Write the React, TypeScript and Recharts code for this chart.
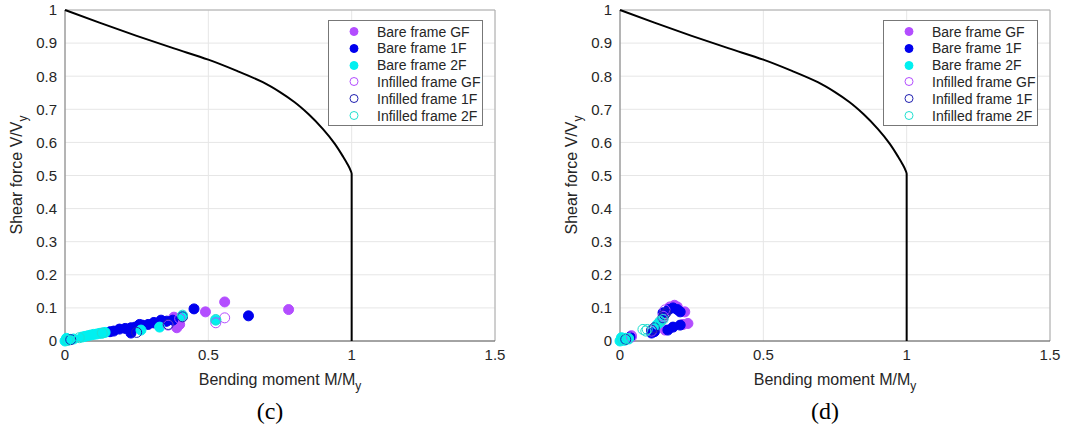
import React from "react";
import { ScatterChart, Scatter, XAxis, YAxis, CartesianGrid, ReferenceLine, Label } from "recharts";

type Pt = [number, number];

const X_TICKS = [0, 0.5, 1, 1.5];
const Y_TICKS = [0, 0.1, 0.2, 0.3, 0.4, 0.5, 0.6, 0.7, 0.8, 0.9, 1];

// M-V interaction boundary (M/My, V/Vy), ending in a vertical branch at M/My = 1
const BOUNDARY: Pt[] = [
  [0, 1], [0.12, 0.962], [0.25, 0.922], [0.38, 0.884], [0.5, 0.85], [0.6, 0.816],
  [0.69, 0.782], [0.75, 0.752], [0.8, 0.722], [0.85, 0.685], [0.9, 0.64],
  [0.94, 0.597], [0.97, 0.557], [0.985, 0.535], [0.995, 0.518], [1, 0.505], [1, 0],
];

// panel (c)
const C_BARE_GF: Pt[] = [
  [0.78, 0.095], [0.557, 0.118], [0.49, 0.088], [0.39, 0.04], [0.38, 0.072],
  [0.31, 0.054], [0.4, 0.05], [0.35, 0.058], [0.33, 0.052],
];
const C_BARE_1F: Pt[] = [
  [0.64, 0.076], [0.45, 0.097], [0.376, 0.063], [0.335, 0.063], [0.29, 0.05],
  [0.26, 0.05], [0.23, 0.04], [0.23, 0.024], [0.19, 0.036], [0.157, 0.028],
  [0.17, 0.03], [0.21, 0.038], [0.245, 0.042], [0.27, 0.048], [0.31, 0.056], [0.355, 0.06],
];
const C_BARE_2F: Pt[] = [
  [0, 0], [0.01, 0.003], [0.02, 0.005], [0.005, 0.008], [0.03, 0.006], [0.06, 0.012],
  [0.07, 0.014], [0.08, 0.016], [0.09, 0.018], [0.1, 0.02], [0.11, 0.021], [0.12, 0.023],
  [0.13, 0.024], [0.14, 0.026], [0.265, 0.033], [0.33, 0.042], [0.526, 0.063], [0.41, 0.075],
];
const C_INF_GF: Pt[] = [[0.557, 0.07], [0.526, 0.055], [0.36, 0.048], [0.4, 0.068]];
const C_INF_1F: Pt[] = [[0.41, 0.073], [0.36, 0.05], [0.25, 0.026], [0.02, 0.004]];
const C_INF_2F: Pt[] = [[0.41, 0.078], [0.526, 0.065], [0.13, 0.024], [0.05, 0.01], [0.01, 0.002]];

// panel (d)
const D_BARE_GF: Pt[] = [
  [0.174, 0.103], [0.2, 0.103], [0.226, 0.088], [0.237, 0.053], [0.157, 0.033],
  [0.19, 0.108], [0.22, 0.05], [0.04, 0.016],
];
const D_BARE_1F: Pt[] = [
  [0.185, 0.1], [0.21, 0.088], [0.167, 0.033], [0.185, 0.042], [0.21, 0.048], [0.15, 0.085],
  [0.11, 0.024], [0.035, 0.012], [0.2, 0.095], [0.17, 0.095], [0.12, 0.028],
];
const D_BARE_2F: Pt[] = [
  [0, 0], [0.01, 0.005], [0.02, 0.008], [0.005, 0.01], [0.015, 0.002], [0.14, 0.057],
  [0.13, 0.05], [0.03, 0.006],
];
const D_INF_GF: Pt[] = [[0.157, 0.094], [0.15, 0.075], [0.11, 0.03], [0.04, 0.012]];
const D_INF_1F: Pt[] = [[0.11, 0.033], [0.15, 0.07], [0.155, 0.08], [0.16, 0.085], [0.12, 0.04], [0.02, 0.005]];
const D_INF_2F: Pt[] = [
  [0.08, 0.035], [0.095, 0.035], [0.09, 0.03], [0.14, 0.06], [0.15, 0.065], [0.01, 0.004], [0.03, 0.008],
];

const SERIES_NAMES = [
  "Bare frame GF", "Bare frame 1F", "Bare frame 2F",
  "Infilled frame GF", "Infilled frame 1F", "Infilled frame 2F",
];

const STYLES = [
  { color: "#b34dff", filled: true },
  { color: "#0000ee", filled: true },
  { color: "#00f0f0", filled: true },
  { color: "#b34dff", filled: false },
  { color: "#2020b0", filled: false },
  { color: "#20e0d0", filled: false },
];

const FONT = '"Liberation Sans", Arial, sans-serif';
const TEXT = "#262626";

const toObj = (pts: Pt[]) => pts.map(([m, v]) => ({ m, v }));
const fmt = (v: number) => String(+v.toFixed(1));

function dot(color: string, filled: boolean) {
  return (p: any) => (
    <circle
      cx={p.cx}
      cy={p.cy}
      r={5}
      fill={filled ? color : "none"}
      stroke={color}
      strokeWidth={1}
    />
  );
}

function YTitle() {
  return (
    <text transform="translate(22,175) rotate(-90)" textAnchor="middle" fontFamily={FONT} fontSize={16} fill={TEXT}>
      Shear force V/V
      <tspan fontSize={12} dy={5}>y</tspan>
    </text>
  );
}

function XTitle() {
  return (
    <text x={280} y={385} textAnchor="middle" fontFamily={FONT} fontSize={16} fill={TEXT}>
      Bending moment M/M
      <tspan fontSize={12} dy={5}>y</tspan>
    </text>
  );
}

function LegendBox() {
  return (
    <div
      style={{
        position: "absolute",
        left: 328,
        top: 20,
        width: 155,
        height: 106,
        boxSizing: "border-box",
        border: "1px solid #777",
        background: "#fff",
        fontFamily: FONT,
        fontSize: 14,
        color: TEXT,
      }}
    >
      {SERIES_NAMES.map((name, i) => (
        <div key={name} style={{ position: "absolute", top: 2 + i * 16.8, left: 0, height: 17, display: "flex", alignItems: "center" }}>
          <svg width={48} height={17}>
            <circle
              cx={25}
              cy={8.5}
              r={4}
              fill={STYLES[i].filled ? STYLES[i].color : "none"}
              stroke={STYLES[i].color}
              strokeWidth={1}
            />
          </svg>
          <span style={{ whiteSpace: "nowrap" }}>{name}</span>
        </div>
      ))}
    </div>
  );
}

function Panel({ series, caption, left }: { series: Pt[][]; caption: string; left: number }) {
  return (
    <div style={{ position: "absolute", left, top: 0, width: 555, height: 434 }}>
      <ScatterChart width={555} height={400} margin={{ top: 10, right: 60, left: 20, bottom: 29 }}>
        <CartesianGrid stroke="#e6e6e6" strokeWidth={1} />
        <XAxis
          type="number"
          dataKey="m"
          domain={[0, 1.5]}
          ticks={X_TICKS}
          tickFormatter={fmt}
          height={30}
          tickLine={false}
          axisLine={{ stroke: "#555" }}
          tick={{ fill: TEXT, fontSize: 15, fontFamily: FONT }}
        >
          <Label content={() => <XTitle />} />
        </XAxis>
        <YAxis
          type="number"
          dataKey="v"
          domain={[0, 1]}
          ticks={Y_TICKS}
          tickFormatter={fmt}
          width={45}
          tickLine={false}
          axisLine={{ stroke: "#777" }}
          tick={{ fill: TEXT, fontSize: 15, fontFamily: FONT }}
        >
          <Label content={() => <YTitle />} />
        </YAxis>
        <ReferenceLine y={1} stroke="#aaa" />
        <ReferenceLine x={1.5} stroke="#aaa" />
        {series.map((pts, i) => (
          <Scatter
            key={SERIES_NAMES[i]}
            name={SERIES_NAMES[i]}
            data={toObj(pts)}
            shape={dot(STYLES[i].color, STYLES[i].filled)}
            isAnimationActive={false}
          />
        ))}
        <Scatter
          name="boundary"
          data={toObj(BOUNDARY)}
          line={{ stroke: "#000", strokeWidth: 2 }}
          lineJointType="monotoneY"
          shape={() => <g />}
          isAnimationActive={false}
        />
      </ScatterChart>
      <LegendBox />
      <div
        style={{
          position: "absolute",
          left: 0,
          width: 540,
          top: 398,
          textAlign: "center",
          fontFamily: '"Liberation Serif", "Times New Roman", serif',
          fontSize: 24,
          color: "#000",
        }}
      >
        {caption}
      </div>
    </div>
  );
}

export default function App() {
  return (
    <div style={{ position: "absolute", left: 0, top: 0, width: 1065, height: 434, background: "#fff", overflow: "hidden" }}>
      <Panel series={[C_BARE_GF, C_BARE_1F, C_BARE_2F, C_INF_GF, C_INF_1F, C_INF_2F]} caption="(c)" left={0} />
      <Panel series={[D_BARE_GF, D_BARE_1F, D_BARE_2F, D_INF_GF, D_INF_1F, D_INF_2F]} caption="(d)" left={555} />
    </div>
  );
}
